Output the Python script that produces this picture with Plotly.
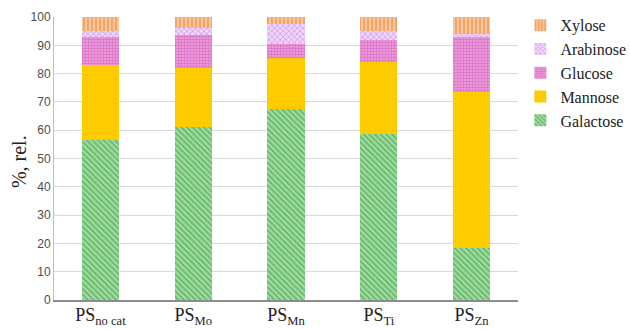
import plotly.graph_objects as go

# Relative sugar composition (%) of each polysaccharide sample
categories = ["PS<sub>no cat</sub>", "PS<sub>Mo</sub>", "PS<sub>Mn</sub>", "PS<sub>Ti</sub>", "PS<sub>Zn</sub>"]
galactose = [56.5, 61.0, 67.5, 58.5, 18.5]
mannose = [26.5, 21.0, 18.0, 25.5, 55.0]
glucose = [10.0, 11.5, 5.0, 8.0, 19.5]
arabinose = [2.0, 2.5, 7.0, 3.0, 1.0]
xylose = [5.0, 4.0, 2.5, 5.0, 6.0]
y_ticks = [0, 10, 20, 30, 40, 50, 60, 70, 80, 90, 100]

series = [
    ("Galactose", galactose, dict(shape="\\", fgcolor="#2A9A3A", bgcolor="#A6DDA4", size=4, solidity=0.5)),
    ("Mannose", mannose, dict(shape=".", fgcolor="#F2C000", bgcolor="#FFCC00", size=4, solidity=0.2)),
    ("Glucose", glucose, dict(shape=".", fgcolor="#CC3AAE", bgcolor="#EDA8DF", size=3, solidity=0.55)),
    ("Arabinose", arabinose, dict(shape="x", fgcolor="#BE6EE0", bgcolor="#EFD6F9", size=4, solidity=0.4)),
    ("Xylose", xylose, dict(shape="|", fgcolor="#EE8234", bgcolor="#F9C79E", size=4, solidity=0.5)),
]

fig = go.Figure()
for name, vals, pat in series:
    fig.add_trace(go.Bar(
        x=categories, y=vals, name=name,
        marker=dict(color=pat["bgcolor"], pattern=pat, line=dict(width=0)),
    ))

fig.update_layout(
    barmode="stack",
    bargap=0.6,
    width=630, height=329,
    margin=dict(l=54, r=112, t=17, b=29, autoexpand=False),
    paper_bgcolor="white", plot_bgcolor="white",
    legend=dict(
        xref="container", yref="container",
        x=0.826, y=0.975, xanchor="left", yanchor="top",
        traceorder="reversed",
        font=dict(family="Liberation Serif", size=16, color="#222"),
        tracegroupgap=0, itemwidth=30,
    ),
    annotations=[dict(
        text="%, rel.", xref="paper", yref="paper", x=-0.075, y=0.488,
        textangle=-90, showarrow=False, xanchor="center", yanchor="middle",
        font=dict(family="Liberation Serif", size=20, color="#222"),
    )],
)
fig.update_xaxes(
    showline=True, linecolor="#8C8C8C", linewidth=1.5,
    tickfont=dict(family="Liberation Serif", size=18, color="#222"),
    ticks="", automargin=False, ticklabelstandoff=-2,
)
fig.update_yaxes(
    range=[0, 100], tickvals=y_ticks,
    showgrid=True, gridcolor="#D9D9D9", gridwidth=1,
    showline=True, linecolor="#BFBFBF", linewidth=1,
    zeroline=False,
    tickfont=dict(family="Liberation Sans", size=12, color="#4D4D4D"),
    ticks="", automargin=False,
)

fig.write_html("out.html")
